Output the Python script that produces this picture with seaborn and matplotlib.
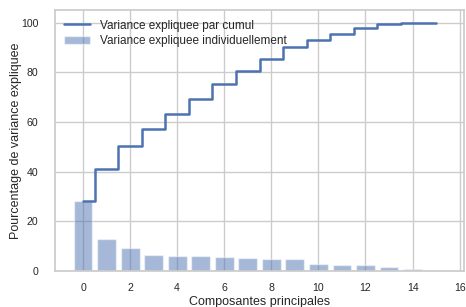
import numpy as np
import pandas as pd
import seaborn as sns
import matplotlib.pyplot as plt

# Individual explained variance per principal component (%)
components = list(range(16))
var_indiv = [28.2, 12.9, 9.3, 6.6, 6.2, 6.2, 5.8, 5.3, 4.8, 4.7, 3.0, 2.5, 2.4, 1.5, 0.7, 0.1]
var_cumul = [28.2, 41.1, 50.4, 57.0, 63.2, 69.4, 75.2, 80.5, 85.3, 90.0, 93.0, 95.5, 97.9, 99.4, 100.0, 100.0]

df = pd.DataFrame({"composante": components, "indiv": var_indiv, "cumul": var_cumul})

sns.set_theme(style="whitegrid")
plt.rcParams['font.family'] = ['Liberation Sans', 'DejaVu Sans']
plt.rcParams['axes.edgecolor'] = '.8'

blue = sns.color_palette("deep")[0]

fig, ax = plt.subplots(figsize=(4.66, 3.07), dpi=100)
sns.barplot(data=df, x="composante", y="indiv", native_scale=True, color=blue,
            saturation=1, alpha=0.5, width=0.8, label="Variance expliquee individuellement", ax=ax)
sns.lineplot(data=df, x="composante", y="cumul", drawstyle="steps-mid", color=blue,
             linewidth=1.8, label="Variance expliquee par cumul", ax=ax)

ax.set_xticks(range(0, 17, 2))
ax.set_yticks(range(0, 101, 20))
ax.tick_params(axis="x", labelsize=7.6, pad=2.5)
ax.tick_params(axis="y", labelsize=7.6, pad=6)
ax.set_xlabel("Composantes principales", fontsize=9, labelpad=2)
ax.set_ylabel("Pourcentage de variance expliquee", fontsize=9, labelpad=-1)
ax.legend(loc="upper left", fontsize=8.5, frameon=False, borderaxespad=0.4,
          handlelength=2.2, handletextpad=0.8, labelspacing=0.3)

fig.subplots_adjust(left=0.118, right=0.996, top=0.967, bottom=0.117)
plt.savefig("out.png", dpi=100)
